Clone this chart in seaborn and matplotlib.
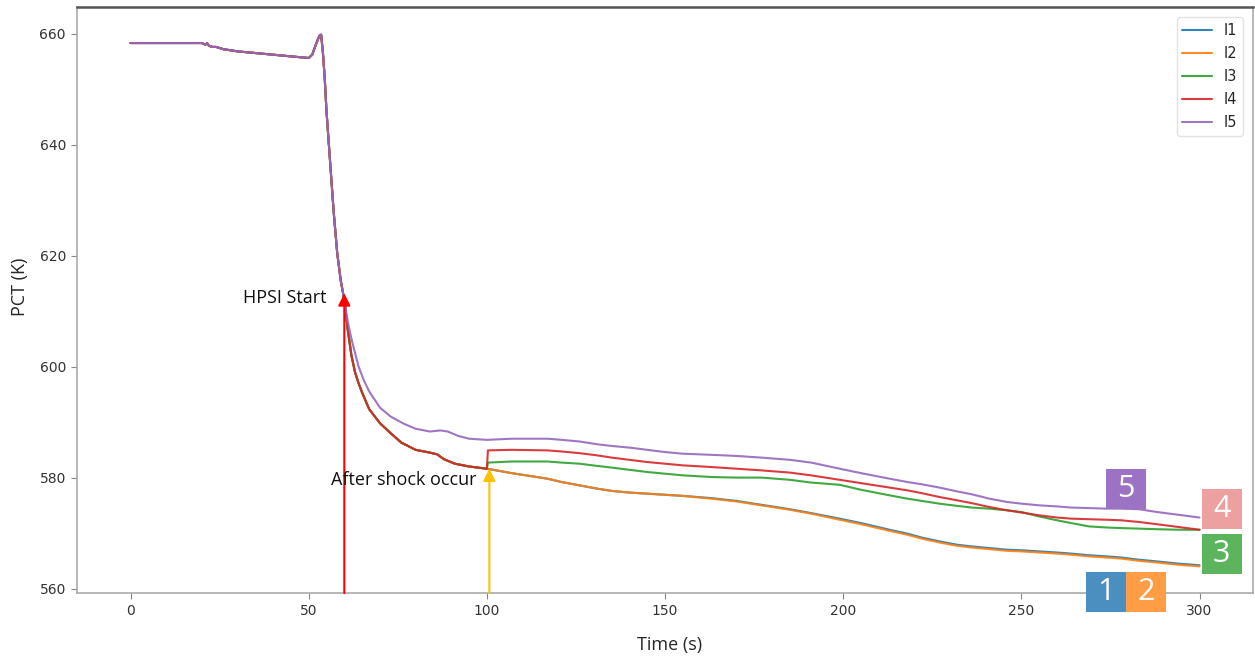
import matplotlib
matplotlib.use("Agg")
import matplotlib.pyplot as plt
from matplotlib.patches import Rectangle
import seaborn as sns
import pandas as pd

# ---------------- data ----------------
series_names = ["I1", "I2", "I3", "I4", "I5"]
line_colors = ["#1f77b4", "#ff7f0e", "#2ca02c", "#d62728", "#9467bd"]

# common part for all series (t <= 60 s)
t_pre = [0, 20, 21, 21.5, 22, 23, 24, 26, 28, 30, 35, 40, 45, 50, 51, 52, 53,
         53.5, 54, 54.5, 55, 56, 57, 58, 59, 60]
pct_pre = [658.3, 658.3, 658.0, 658.3, 657.8, 657.6, 657.6, 657.2, 657.0, 656.8,
           656.5, 656.2, 655.9, 655.6, 656.2, 658.0, 659.6, 659.8, 656.5, 652.0,
           646.0, 637.0, 628.0, 620.5, 615.5, 612.0]

# I1-I4 between 60 s and 100 s
t_mid_low = [61, 62, 63, 64, 65, 67, 70, 73, 76, 80, 84, 86, 88, 91, 95, 100]
pct_mid_low = [606.5, 602.0, 599.0, 597.0, 595.3, 592.3, 589.8, 588.0, 586.3,
               585.0, 584.5, 584.2, 583.3, 582.5, 582.0, 581.6]

# I5 between 60 s and 100 s
t_mid_i5 = [61, 62, 63, 64, 65.5, 67, 70, 73, 76.7, 80, 84, 87, 89, 92, 95, 100]
pct_mid_i5 = [608.0, 605.0, 602.5, 600.0, 597.5, 595.5, 592.6, 591.0, 589.7,
              588.8, 588.3, 588.5, 588.3, 587.5, 587.0, 586.8]

# jump right after the after-shock (I3, I4)
t_jump = [100.3]
pct_jump_i3 = [582.7]
pct_jump_i4 = [584.9]

# after 100 s
t_post = [107, 117, 121, 126, 131, 135, 140, 145, 150, 155, 163, 170, 177, 185,
          191, 199, 205, 213, 218, 222, 227, 232, 236, 241, 246, 250, 255, 260,
          264, 269, 274, 278, 283, 288, 294, 300]
pct_post_i1 = [580.8, 579.8, 579.2, 578.6, 578.0, 577.6, 577.3, 577.1, 576.9,
               576.7, 576.3, 575.8, 575.1, 574.3, 573.6, 572.6, 571.8, 570.6,
               569.9, 569.2, 568.5, 567.9, 567.6, 567.3, 567.0, 566.9, 566.7,
               566.5, 566.3, 566.0, 565.8, 565.6, 565.2, 564.9, 564.5, 564.2]
pct_post_i2 = [580.8, 579.8, 579.2, 578.6, 578.0, 577.6, 577.3, 577.1, 576.9,
               576.7, 576.2, 575.7, 575.0, 574.2, 573.5, 572.4, 571.6, 570.4,
               569.7, 569.0, 568.3, 567.7, 567.4, 567.1, 566.8, 566.7, 566.5,
               566.3, 566.1, 565.8, 565.6, 565.4, 565.0, 564.7, 564.3, 564.0]
pct_post_i3 = [582.9, 582.9, 582.7, 582.5, 582.1, 581.8, 581.4, 581.0, 580.7,
               580.4, 580.1, 580.0, 580.0, 579.6, 579.1, 578.7, 577.8, 576.8,
               576.2, 575.8, 575.3, 574.9, 574.6, 574.4, 574.1, 573.8, 573.0,
               572.3, 571.8, 571.2, 571.0, 570.9, 570.8, 570.7, 570.6, 570.6]
pct_post_i4 = [585.0, 584.9, 584.7, 584.4, 584.0, 583.6, 583.2, 582.8, 582.5,
               582.2, 581.9, 581.6, 581.3, 580.9, 580.4, 579.6, 579.0, 578.2,
               577.7, 577.2, 576.5, 575.9, 575.4, 574.7, 574.1, 573.7, 573.2,
               572.8, 572.6, 572.5, 572.4, 572.3, 572.0, 571.6, 571.1, 570.6]
pct_post_i5 = [587.0, 587.0, 586.8, 586.5, 586.0, 585.7, 585.4, 585.0, 584.6,
               584.3, 584.1, 583.9, 583.6, 583.2, 582.7, 581.6, 580.8, 579.8,
               579.2, 578.8, 578.2, 577.5, 577.0, 576.2, 575.6, 575.3, 575.0,
               574.8, 574.6, 574.5, 574.4, 574.4, 574.3, 573.8, 573.3, 572.8]

x_ticks = [0, 50, 100, 150, 200, 250, 300]
y_ticks = [560, 580, 600, 620, 640, 660]

# ---------------- build long table ----------------
pieces = {
    "I1": (t_pre + t_mid_low + t_post, pct_pre + pct_mid_low + pct_post_i1),
    "I2": (t_pre + t_mid_low + t_post, pct_pre + pct_mid_low + pct_post_i2),
    "I3": (t_pre + t_mid_low + t_jump + t_post,
           pct_pre + pct_mid_low + pct_jump_i3 + pct_post_i3),
    "I4": (t_pre + t_mid_low + t_jump + t_post,
           pct_pre + pct_mid_low + pct_jump_i4 + pct_post_i4),
    "I5": (t_pre + t_mid_i5 + t_post, pct_pre + pct_mid_i5 + pct_post_i5),
}
rows = []
for name in series_names:
    ts, ps = pieces[name]
    for t, p in zip(ts, ps):
        rows.append({"Time": t, "PCT": p, "series": name})
df = pd.DataFrame(rows)

# ---------------- plot ----------------
sns.set_style("ticks")
plt.rcParams["font.family"] = ["DejaVu Sans"]

fig = plt.figure(figsize=(12.55, 6.57), dpi=100)
ax = fig.add_axes([0.0614, 0.0974, 0.937, 0.892])

sns.lineplot(data=df, x="Time", y="PCT", hue="series", hue_order=series_names,
             palette=line_colors, estimator=None, sort=False, linewidth=1.5,
             alpha=0.9, ax=ax)

ax.set_xlim(-15, 315)
ax.set_ylim(559.2, 664.8)
ax.set_xticks(x_ticks)
ax.set_yticks(y_ticks)

tick_font = ["Liberation Sans Narrow", "DejaVu Sans"]
for lab in ax.get_xticklabels() + ax.get_yticklabels():
    lab.set_family(tick_font)
    lab.set_fontsize(10)
    lab.set_color("#333333")
ax.tick_params(axis="both", length=4, width=0.8, color="#888888", pad=4)

label_font = ["Open Sans", "DejaVu Sans"]
ax.set_xlabel("Time (s)", family=label_font, fontsize=13)
ax.set_ylabel("PCT (K)", family=label_font, fontsize=13)
ax.xaxis.set_label_coords(0.504, -0.073)
ax.yaxis.set_label_coords(-0.041, 0.523)

for side in ["left", "bottom", "right"]:
    ax.spines[side].set_color("#aaaaaa")
    ax.spines[side].set_linewidth(1.2)
ax.spines["top"].set_color("#555555")
ax.spines["top"].set_linewidth(1.8)

leg = ax.legend(loc="upper right", title=None, frameon=True,
                prop={"family": tick_font, "size": 10.5}, borderaxespad=0.7,
                handlelength=2.0, labelspacing=0.55)
leg.get_frame().set_edgecolor("#dddddd")

# annotations
ax.annotate("", xy=(60, 613.2), xytext=(60, 559.2),
            arrowprops=dict(arrowstyle="-|>", color="red", lw=1.5,
                            mutation_scale=18, shrinkA=0, shrinkB=0))
ax.text(54.9, 612.4, "HPSI Start", ha="right", va="center",
        family=label_font, fontsize=13, color="#111111")

ax.annotate("", xy=(100.7, 581.6), xytext=(100.7, 559.2),
            arrowprops=dict(arrowstyle="-|>", color="#ffc000", lw=1.5,
                            mutation_scale=18, shrinkA=0, shrinkB=0))
ax.text(97.1, 579.5, "After shock occur", ha="right", va="center",
        family=label_font, fontsize=13, color="#111111")

# numbered boxes
boxes = [("5", 279.3, 578.0, "#9b72c4"),
         ("4", 306.2, 574.4, "#eda0a0"),
         ("3", 306.2, 566.3, "#5cb55c"),
         ("1", 273.7, 559.3, "#4a8fc0"),
         ("2", 284.9, 559.3, "#ff9d47")]
bw, bh = 11.2, 7.2
for txt, cx, cy, col in boxes:
    ax.add_patch(Rectangle((cx - bw / 2, cy - bh / 2), bw, bh, facecolor=col,
                           edgecolor="none", clip_on=False, zorder=5))
    ax.text(cx, cy, txt, ha="center", va="center", color="white",
            family=label_font, fontsize=22, zorder=6, clip_on=False)

fig.savefig("out.png", dpi=100)
